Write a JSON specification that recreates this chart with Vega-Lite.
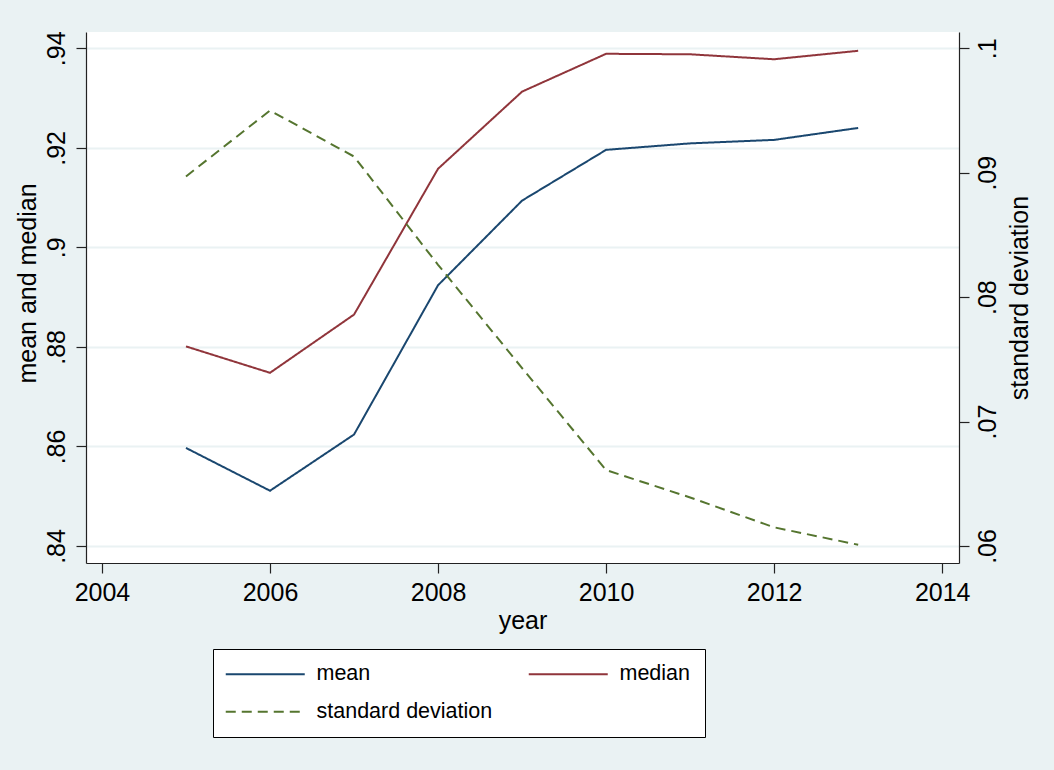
{
  "$schema": "https://vega.github.io/schema/vega-lite/v6.json",
  "width": 873,
  "height": 531,
  "autosize": {"type": "none"},
  "padding": {"left": 86, "top": 32, "right": 95, "bottom": 207},
  "background": "#EAF2F3",
  "config": {
    "view": {"fill": "white", "stroke": null},
    "font": "Liberation Sans",
    "axis": {
      "domainColor": "#222222",
      "domainWidth": 1.2,
      "tickColor": "#222222",
      "tickWidth": 1.2,
      "tickSize": 10,
      "labelFontSize": 25,
      "labelColor": "black",
      "titleFontSize": 25,
      "titleFontWeight": "normal",
      "titleColor": "black",
      "labelFont": "Liberation Sans",
      "titleFont": "Liberation Sans"
    },
    "legend": {
      "labelFont": "Liberation Sans"
    }
  },
  "datasets": {
    "mm": [
      {"year": 2005, "series": "mean", "value": 0.8597},
      {"year": 2006, "series": "mean", "value": 0.8511},
      {"year": 2007, "series": "mean", "value": 0.8624},
      {"year": 2008, "series": "mean", "value": 0.8924},
      {"year": 2009, "series": "mean", "value": 0.9094},
      {"year": 2010, "series": "mean", "value": 0.9196},
      {"year": 2011, "series": "mean", "value": 0.9209},
      {"year": 2012, "series": "mean", "value": 0.9216},
      {"year": 2013, "series": "mean", "value": 0.9240},
      {"year": 2005, "series": "median", "value": 0.8801},
      {"year": 2006, "series": "median", "value": 0.8748},
      {"year": 2007, "series": "median", "value": 0.8865},
      {"year": 2008, "series": "median", "value": 0.9158},
      {"year": 2009, "series": "median", "value": 0.9313},
      {"year": 2010, "series": "median", "value": 0.9389},
      {"year": 2011, "series": "median", "value": 0.9388},
      {"year": 2012, "series": "median", "value": 0.9378},
      {"year": 2013, "series": "median", "value": 0.9395}
    ],
    "sd": [
      {"year": 2005, "series": "standard deviation", "value": 0.0897},
      {"year": 2006, "series": "standard deviation", "value": 0.0950},
      {"year": 2007, "series": "standard deviation", "value": 0.0913},
      {"year": 2008, "series": "standard deviation", "value": 0.0826},
      {"year": 2009, "series": "standard deviation", "value": 0.0743},
      {"year": 2010, "series": "standard deviation", "value": 0.0661},
      {"year": 2011, "series": "standard deviation", "value": 0.0639},
      {"year": 2012, "series": "standard deviation", "value": 0.0615},
      {"year": 2013, "series": "standard deviation", "value": 0.0601}
    ]
  },
  "encoding": {
    "x": {
      "field": "year",
      "type": "quantitative",
      "scale": {"domain": [2003.81, 2014.2], "nice": false, "zero": false},
      "axis": {
        "values": [2004, 2006, 2008, 2010, 2012, 2014],
        "format": "d",
        "grid": false,
        "labelPadding": 7,
        "title": "year",
        "titlePadding": 3,
        "labelFlush": false
      }
    },
    "color": {
      "field": "series",
      "type": "nominal",
      "scale": {
        "domain": ["mean", "median", "standard deviation"],
        "range": ["#1a476f", "#90353b", "#55752f"]
      },
      "legend": {
        "title": null,
        "orient": "none",
        "direction": "horizontal",
        "legendX": 127,
        "legendY": 617,
        "columns": 2,
        "symbolType": "M-6,0H33.5",
        "symbolSize": 16,
        "symbolStrokeWidth": 2,
        "labelFontSize": 21.5,
        "labelColor": "black",
        "labelOffset": 68,
        "labelLimit": 400,
        "columnPadding": 31,
        "rowPadding": 15,
        "padding": 14,
        "fillColor": "white",
        "strokeColor": "black"
      }
    },
    "strokeDash": {
      "field": "series",
      "type": "nominal",
      "scale": {
        "domain": ["mean", "median", "standard deviation"],
        "range": [[1, 0], [1, 0], [10, 6]]
      },
      "legend": {
        "title": null,
        "orient": "none",
        "direction": "horizontal",
        "legendX": 127,
        "legendY": 617,
        "columns": 2,
        "symbolType": "M-6,0H33.5",
        "symbolSize": 16,
        "symbolStrokeWidth": 2,
        "labelFontSize": 21.5,
        "labelColor": "black",
        "labelOffset": 68,
        "labelLimit": 400,
        "columnPadding": 31,
        "rowPadding": 15,
        "padding": 14,
        "fillColor": "white",
        "strokeColor": "black"
      }
    }
  },
  "layer": [
    {
      "data": {"name": "mm"},
      "mark": {"type": "line", "strokeWidth": 2},
      "encoding": {
        "y": {
          "field": "value",
          "type": "quantitative",
          "scale": {"domain": [0.83658, 0.94328], "nice": false, "zero": false},
          "axis": {
            "orient": "left",
            "values": [0.84, 0.86, 0.88, 0.9, 0.92, 0.94],
            "labelExpr": "replace(format(datum.value, '.2~f'), '0.', '.')",
            "labelAngle": -90,
            "labelAlign": "center",
            "labelBaseline": "bottom",
            "labelPadding": 7,
            "grid": true,
            "gridColor": "#EAF2F3",
            "gridWidth": 2,
            "title": "mean and median",
            "titleAngle": -90,
            "titleBaseline": "bottom",
            "titlePadding": 4,
            "titleY": 251
          }
        }
      }
    },
    {
      "data": {"name": "sd"},
      "mark": {"type": "line", "strokeWidth": 2},
      "encoding": {
        "y": {
          "field": "value",
          "type": "quantitative",
          "scale": {"domain": [0.058633, 0.10131], "nice": false, "zero": false},
          "axis": {
            "orient": "right",
            "values": [0.06, 0.07, 0.08, 0.09, 0.1],
            "labelExpr": "replace(format(datum.value, '.2~f'), '0.', '.')",
            "labelAngle": -90,
            "labelAlign": "center",
            "labelBaseline": "top",
            "labelPadding": 6,
            "grid": false,
            "title": "standard deviation",
            "titleAngle": -90,
            "titleBaseline": "top",
            "titlePadding": 7
          }
        }
      }
    }
  ],
  "resolve": {"scale": {"y": "independent"}}
}
